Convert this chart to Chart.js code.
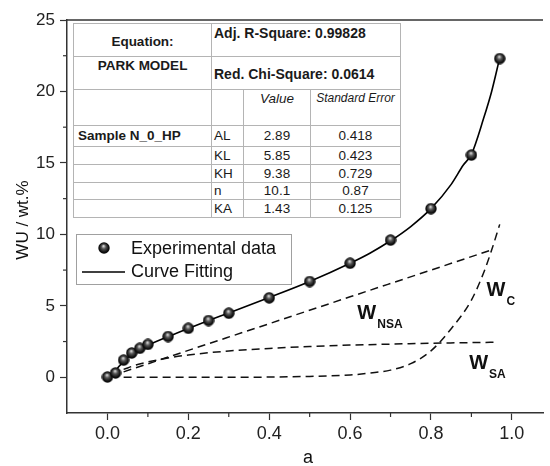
<!DOCTYPE html>
<html>
<head>
<meta charset="utf-8">
<script src="https://cdn.jsdelivr.net/npm/chart.js@4/dist/chart.umd.min.js"></script>
<style>
    body { margin: 0; background: #fff; overflow: hidden; }
    #wrap { position: relative; width: 550px; height: 466px; }
    #fit-table {
        position: absolute; left: 73px; top: 23px;
        border-collapse: collapse; background: #fff;
        font-family: "Liberation Sans", Arial, sans-serif; color: #1a1a1a;
        font-size: 13.5px; line-height: 1;
    }
    #fit-table td { border: 1px solid #b4b4b4; padding: 0; }
    #fit-table .b { font-weight: bold; }
    #fit-table .c { text-align: center; }
    #fit-table .top { vertical-align: top; padding-top: 2px; }
    #fit-table .par { padding-left: 2px; }
    #fit-table .it { font-style: italic; }
</style>
</head>
<body>
<div id="wrap">
    <canvas id="chart" width="550" height="466"></canvas>
    <table id="fit-table">
        <colgroup><col style="width:138px"><col style="width:32px"><col style="width:67px"><col style="width:90px"></colgroup>
        <tr style="height:33px"><td class="b c" style="padding-top:4px">Equation:</td><td class="b top par" colspan="3" style="font-size:14px">Adj. R-Square: 0.99828</td></tr>
        <tr style="height:33px"><td class="b c top">PARK MODEL</td><td class="b par" colspan="3" style="font-size:14px;padding-top:2px">Red. Chi-Square: 0.0614</td></tr>
        <tr style="height:36px"><td></td><td></td><td class="it c top">Value</td><td class="it c top" style="font-size:12px">Standard Error</td></tr>
        <tr style="height:21px"><td class="b" style="padding-left:4px">Sample N_0_HP</td><td class="par">AL</td><td class="c">2.89</td><td class="c">0.418</td></tr>
        <tr style="height:18px"><td></td><td class="par">KL</td><td class="c">5.85</td><td class="c">0.423</td></tr>
        <tr style="height:18px"><td></td><td class="par">KH</td><td class="c">9.38</td><td class="c">0.729</td></tr>
        <tr style="height:17px"><td></td><td class="par">n</td><td class="c">10.1</td><td class="c">0.87</td></tr>
        <tr style="height:18px"><td></td><td class="par">KA</td><td class="c">1.43</td><td class="c">0.125</td></tr>
    </table>
</div>
<script>
// Experimental points (water uptake vs water activity)
const xExp = [0, 0.02, 0.04, 0.06, 0.08, 0.10, 0.15, 0.20, 0.25, 0.30, 0.40, 0.50, 0.60, 0.70, 0.80, 0.90, 0.97];
const yExp = [0.02, 0.3, 1.2, 1.7, 2.03, 2.3, 2.85, 3.43, 3.97, 4.48, 5.56, 6.7, 7.98, 9.6, 11.8, 15.55, 22.3];

// Curve fitting
const xFit = [0.02, 0.03, 0.04, 0.06, 0.08, 0.10, 0.15, 0.20, 0.25, 0.30, 0.40, 0.50, 0.60, 0.65, 0.70, 0.75, 0.80, 0.85, 0.88, 0.90, 0.93, 0.95, 0.97];
const yFit = [0.45, 0.8, 1.12, 1.62, 1.98, 2.25, 2.85, 3.42, 3.97, 4.5, 5.58, 6.7, 7.98, 8.7, 9.55, 10.55, 11.8, 13.5, 14.85, 15.6, 18.1, 20.0, 22.35];

// Components (dashed lines)
const xNsa = [0.04, 0.2, 0.4, 0.6, 0.8, 0.955];
const yNsa = [0.38, 1.88, 3.75, 5.63, 7.5, 8.96];
const xSa = [0.04, 0.07, 0.10, 0.15, 0.20, 0.30, 0.40, 0.50, 0.60, 0.70, 0.80, 0.955];
const ySa = [0.55, 0.85, 1.07, 1.35, 1.56, 1.84, 2.02, 2.15, 2.25, 2.32, 2.38, 2.45];
const xC = [0.04, 0.3, 0.5, 0.6, 0.65, 0.7, 0.75, 0.8, 0.85, 0.9, 0.93, 0.95, 0.97];
const yC = [0, 0, 0.06, 0.16, 0.3, 0.5, 0.95, 1.85, 3.4, 5.4, 7.3, 8.9, 10.7];

// Axis ticks
const xMin = -0.1, xMax = 1.077, xStep = 0.1;
const yMin = -2.5, yMax = 25, yStep = 2.5;

const FONT = '"Liberation Sans", Arial, sans-serif';

const pts = (xs, ys) => xs.map((x, i) => ({ x: x, y: ys[i] }));

// shaded ball marker
function makeBall(size) {
    const c = document.createElement('canvas');
    c.width = size; c.height = size;
    const g = c.getContext('2d');
    const r = size / 2;
    const grad = g.createRadialGradient(r - 0.5, r - 2, 0.3, r, r, r);
    grad.addColorStop(0, '#d8d8d8');
    grad.addColorStop(0.35, '#555');
    grad.addColorStop(0.75, '#111');
    grad.addColorStop(1, '#000');
    g.fillStyle = grad;
    g.beginPath();
    g.arc(r, r, r - 0.3, 0, Math.PI * 2);
    g.fill();
    return c;
}
const ball = makeBall(12);

const isMajorX = v => v >= 0 && Math.abs(Math.round(v * 10)) % 2 === 0;
const isMajorY = v => Math.abs(Math.round(v / 2.5)) % 2 === 0;

const decor = {
    id: 'decor',
    afterDraw(chart) {
        const { ctx, chartArea: a, scales: { x, y } } = chart;
        ctx.save();
        ctx.strokeStyle = '#333';
        ctx.lineWidth = 1.5;

        // top frame line
        ctx.beginPath();
        ctx.moveTo(a.left, a.top);
        ctx.lineTo(a.right, a.top);
        ctx.stroke();

        // minor ticks
        ctx.lineWidth = 1.2;
        x.ticks.forEach(t => {
            if (isMajorX(t.value) || t.value < 0) return;
            const px = x.getPixelForValue(t.value);
            ctx.beginPath();
            ctx.moveTo(px, a.bottom);
            ctx.lineTo(px, a.bottom + 4);
            ctx.stroke();
        });
        y.ticks.forEach(t => {
            if (isMajorY(t.value) || t.value <= yMin) return;
            const py = y.getPixelForValue(t.value);
            ctx.beginPath();
            ctx.moveTo(a.left, py);
            ctx.lineTo(a.left - 4, py);
            ctx.stroke();
        });

        // component labels
        ctx.fillStyle = '#111';
        ctx.textBaseline = 'alphabetic';
        const wLabel = (vx, vy, sub) => {
            const px = x.getPixelForValue(vx), py = y.getPixelForValue(vy);
            ctx.font = 'bold 20px ' + FONT;
            ctx.fillText('W', px, py);
            const w = ctx.measureText('W').width;
            ctx.font = 'bold 12px ' + FONT;
            ctx.fillText(sub, px + w + 1, py + 9);
        };
        wLabel(0.618, 4.11, 'NSA');
        wLabel(0.9376, 5.72, 'C');
        wLabel(0.8944, 0.61, 'SA');

        // legend
        ctx.fillStyle = '#fff';
        ctx.fillRect(76, 234, 215, 50);
        ctx.strokeStyle = '#a0a0a0';
        ctx.lineWidth = 1;
        ctx.strokeRect(76.5, 234.5, 215, 50);
        ctx.drawImage(ball, 98, 242);
        ctx.strokeStyle = '#000';
        ctx.lineWidth = 1.5;
        ctx.beginPath();
        ctx.moveTo(82, 272);
        ctx.lineTo(125, 272);
        ctx.stroke();
        ctx.fillStyle = '#111';
        ctx.font = '18px ' + FONT;
        ctx.textBaseline = 'middle';
        ctx.fillText('Experimental data', 131, 249);
        ctx.fillText('Curve Fitting', 131, 272);

        // axis titles
        ctx.font = '17px ' + FONT;
        ctx.textAlign = 'center';
        ctx.save();
        ctx.translate(23, 220);
        ctx.rotate(-Math.PI / 2);
        ctx.fillText('WU / wt.%', 0, 0);
        ctx.restore();

        ctx.textAlign = 'left';
        ctx.textBaseline = 'alphabetic';
        ctx.font = '18px ' + FONT;
        ctx.fillText('a', 303, 463);
        ctx.font = '11px ' + FONT;
        ctx.fillText('w', 314, 472);
        ctx.restore();
    }
};

const dashed = (data) => ({
    data: data,
    showLine: true,
    borderColor: '#111',
    borderWidth: 1.5,
    borderDash: [8, 5],
    pointRadius: 0,
    cubicInterpolationMode: 'monotone',
    order: 2
});

new Chart(document.getElementById('chart'), {
    type: 'scatter',
    data: {
        datasets: [
            {
                label: 'Experimental data',
                data: pts(xExp, yExp),
                pointStyle: ball,
                pointRadius: 6,
                order: 0
            },
            {
                label: 'Curve Fitting',
                data: pts(xFit, yFit),
                showLine: true,
                borderColor: '#000',
                borderWidth: 1.6,
                pointRadius: 0,
                cubicInterpolationMode: 'monotone',
                order: 1
            },
            dashed(pts(xNsa, yNsa)),
            dashed(pts(xSa, ySa)),
            dashed(pts(xC, yC))
        ]
    },
    options: {
        responsive: false,
        animation: false,
        devicePixelRatio: 1,
        layout: { padding: { top: 20, right: 0, left: 0, bottom: 0 } },
        plugins: { legend: { display: false }, tooltip: { enabled: false } },
        scales: {
            x: {
                type: 'linear',
                min: xMin,
                max: xMax,
                afterFit: s => { s.height = 53; },
                border: { color: '#333', width: 1.5 },
                grid: {
                    drawOnChartArea: false,
                    tickLength: 7,
                    tickWidth: 1.2,
                    tickColor: c => (c.tick && isMajorX(c.tick.value)) ? '#333' : 'rgba(0,0,0,0)'
                },
                ticks: {
                    stepSize: xStep,
                    includeBounds: false,
                    autoSkip: false,
                    maxRotation: 0,
                    padding: 3,
                    color: '#222',
                    font: { family: FONT, size: 18 },
                    callback: v => isMajorX(v) ? v.toFixed(1) : ''
                }
            },
            y: {
                min: yMin,
                max: yMax,
                afterFit: s => { s.width = 67; },
                border: { color: '#333', width: 1.5 },
                grid: {
                    drawOnChartArea: false,
                    tickLength: 7,
                    tickWidth: 1.2,
                    tickColor: c => (c.tick && isMajorY(c.tick.value) && c.tick.value > yMin) ? '#333' : 'rgba(0,0,0,0)'
                },
                ticks: {
                    stepSize: yStep,
                    autoSkip: false,
                    padding: 5,
                    color: '#222',
                    font: { family: FONT, size: 17 },
                    callback: v => isMajorY(v) ? String(v) : ''
                }
            }
        }
    },
    plugins: [decor]
});
</script>
</body>
</html>
